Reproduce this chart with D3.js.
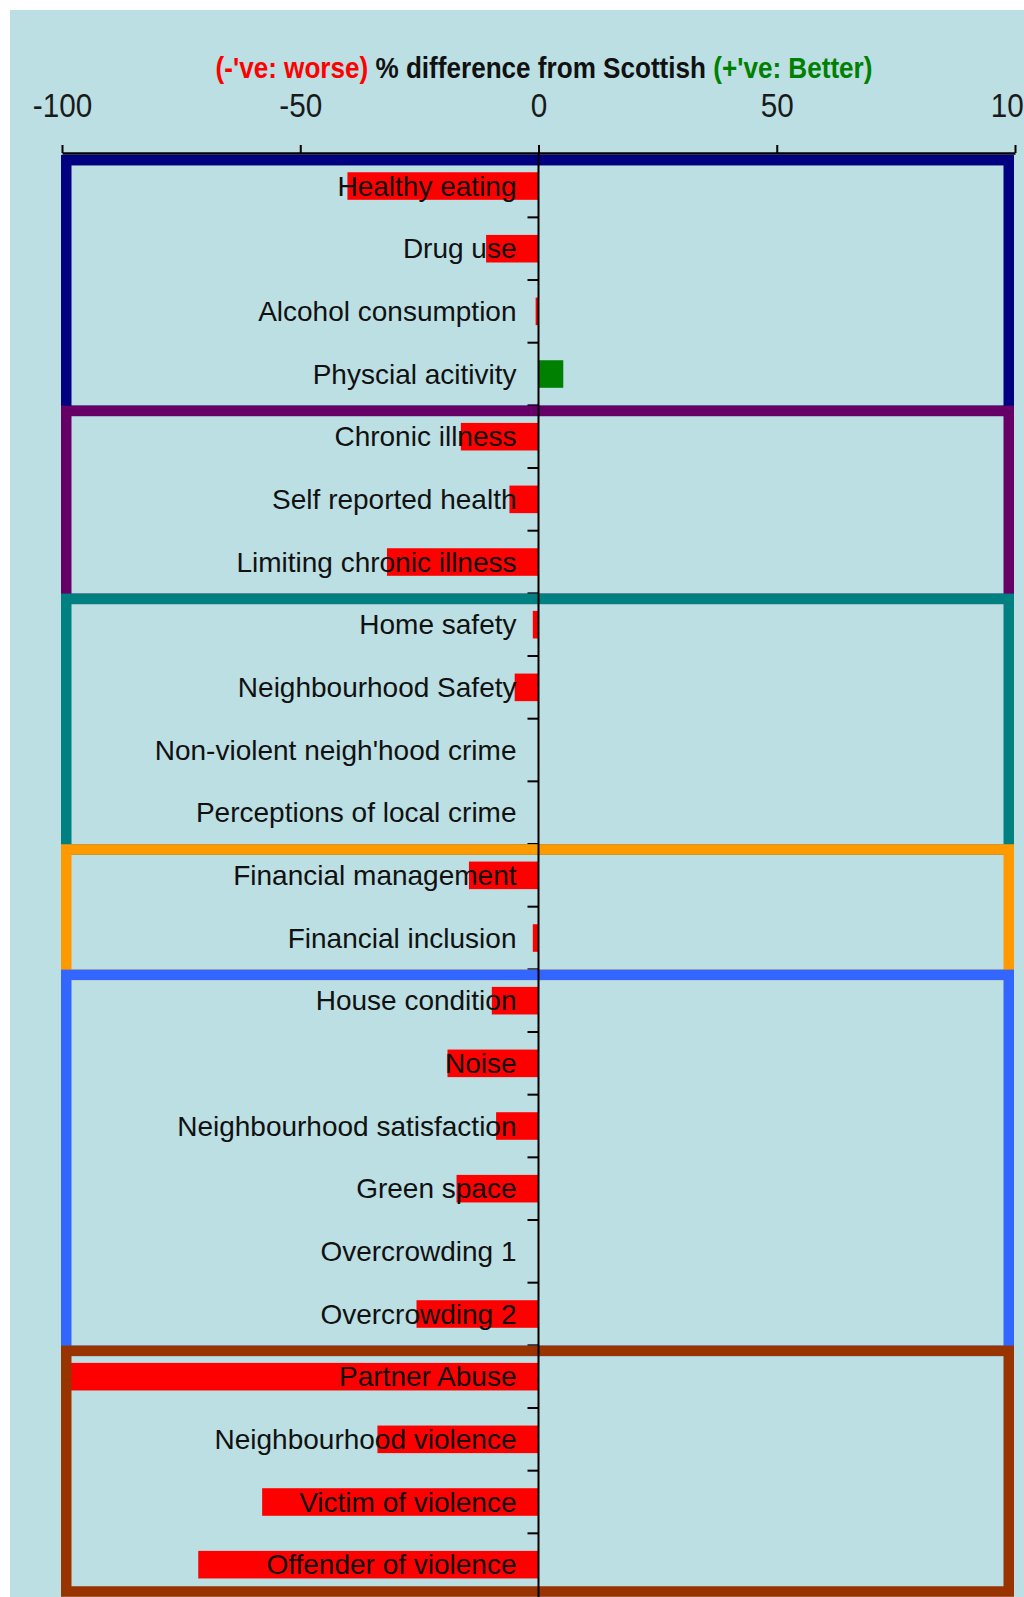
<!DOCTYPE html>
<html>
<head>
<meta charset="utf-8">
<script src="https://cdn.jsdelivr.net/npm/d3@7"></script>
<style>
  html, body { margin: 0; padding: 0; background: #ffffff; }
  svg { display: block; }
  text { font-family: "Liberation Sans", Arial, sans-serif; }
</style>
</head>
<body>
<svg id="chart" width="1024" height="1597"></svg>
<script>
// ---- data ----
const categories = [
  "Healthy eating", "Drug use", "Alcohol consumption", "Physcial acitivity",
  "Chronic illness", "Self reported health", "Limiting chronic illness",
  "Home safety", "Neighbourhood Safety", "Non-violent neigh'hood crime", "Perceptions of local crime",
  "Financial management", "Financial inclusion",
  "House condition", "Noise", "Neighbourhood satisfaction", "Green space", "Overcrowding 1", "Overcrowding 2",
  "Partner Abuse", "Neighbourhood violence", "Victim of violence", "Offender of violence"
];
const values = [
  -40.1, -11.0, -0.6, 5.2,
  -16.3, -6.1, -31.8,
  -1.2, -5.0, 0, 0,
  -14.6, -1.2,
  -9.8, -19.1, -8.9, -17.2, 0, -25.6,
  -100, -33.8, -58.0, -71.4
];
const groupSizes = [4, 3, 4, 2, 6, 4];
const xTicks = [-100, -50, 0, 50, 100];
const titleParts = ["(-'ve: worse)", " % difference from Scottish ", "(+'ve: Better)"];

// ---- styles ----
const groupColors = ["#000080", "#660066", "#008080", "#FF9900", "#3366FF", "#993300"];
const titleColors = ["#FF0000", "#111111", "#008000"];
const bg = "#BBDFE3";

const svg = d3.select("#chart");
const W = 1024, H = 1597;

svg.append("rect").attr("x", 10).attr("y", 10).attr("width", W - 10).attr("height", H - 10).attr("fill", bg);

const x = d3.scaleLinear().domain([-100, 100]).range([62, 1015]);
const y = d3.scaleBand().domain(d3.range(categories.length)).range([154.7, 1596]).padding(0);
const step = y.step();
const B = k => y.range()[0] + k * step;
const barH = step * 0.44;

// title
const title = svg.append("text")
  .attr("transform", "translate(544,78) scale(0.9,1)")
  .attr("text-anchor", "middle")
  .attr("font-size", 29)
  .attr("font-weight", "bold");
titleParts.forEach((t, i) => title.append("tspan").attr("fill", titleColors[i]).text(t));

// top axis
const axisG = svg.append("g").attr("transform", "translate(0,153)")
  .call(d3.axisTop(x).tickValues(xTicks).tickSize(8).tickSizeOuter(0).tickPadding(28).tickFormat(d => String(d)));
axisG.select(".domain").attr("stroke", "#000").attr("stroke-width", 2.5);
axisG.selectAll(".tick line").attr("stroke", "#000").attr("stroke-width", 2);
axisG.selectAll(".tick text")
  .attr("font-size", 33)
  .attr("font-family", "Liberation Sans, Arial, sans-serif")
  .attr("fill", "#1a1a1a")
  .attr("transform", "scale(0.9,1)");

// bars
svg.append("g").selectAll("rect").data(values).join("rect")
  .attr("x", d => x(Math.min(0, d)))
  .attr("width", d => Math.abs(x(d) - x(0)))
  .attr("y", (d, i) => y(i) + (step - barH) / 2)
  .attr("height", barH)
  .attr("fill", d => d >= 0 ? "#008000" : "#FF0000");

// y ticks at band boundaries
svg.append("g").selectAll("line").data(d3.range(1, categories.length)).join("line")
  .attr("x1", x(0) - 11).attr("x2", x(0))
  .attr("y1", k => B(k)).attr("y2", k => B(k))
  .attr("stroke", "#000").attr("stroke-width", 2);

// group boxes
let start = 0;
const boxes = groupSizes.map((n, g) => { const b = { s: start, n, g }; start += n; return b; });
const sw = 10.5;
svg.append("g").selectAll("rect").data(boxes).join("rect")
  .attr("x", x(-100) - 1 + sw / 2)
  .attr("width", (x(100) - 1 - sw / 2) - (x(-100) - 1 + sw / 2) + (d => 0)())
  .attr("y", d => B(d.s) + 5.5)
  .attr("height", d => {
    const last = d.g === boxes.length - 1;
    const bottom = last ? B(d.s + d.n) - 4.5 : B(d.s + d.n) + 5.5;
    return bottom - (B(d.s) + 5.5);
  })
  .attr("fill", "none")
  .attr("stroke", d => groupColors[d.g])
  .attr("stroke-width", sw);

// zero line
svg.append("line")
  .attr("x1", x(0)).attr("x2", x(0))
  .attr("y1", 153).attr("y2", H)
  .attr("stroke", "#000").attr("stroke-width", 2);

// category labels
svg.append("g").selectAll("text").data(categories).join("text")
  .attr("x", x(0) - 22)
  .attr("y", (d, i) => y(i) + step / 2 + 9.5)
  .attr("text-anchor", "end")
  .attr("font-size", 28)
  .attr("fill", "#111")
  .text(d => d);
</script>
</body>
</html>
